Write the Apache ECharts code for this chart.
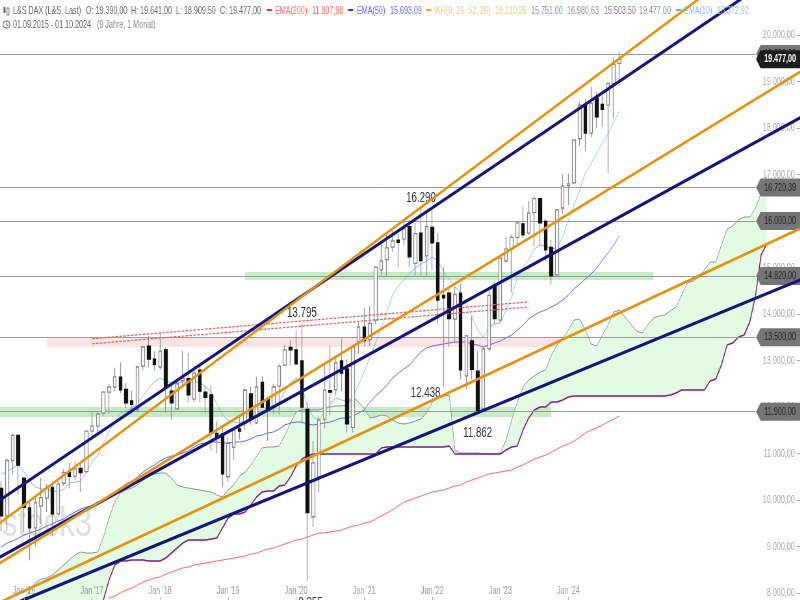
<!DOCTYPE html>
<html>
<head>
<meta charset="utf-8">
<style>
html,body{margin:0;padding:0;background:#fff;overflow:hidden;width:800px;height:600px}
/* the source picture is squeezed horizontally, so the chart is drawn wider and scaled down */
#chart{width:1231px;height:600px;transform:scaleX(0.65);transform-origin:0 0}
</style>
<script src="https://cdn.jsdelivr.net/npm/echarts@6/dist/echarts.min.js"></script>
</head>
<body>
<div id="chart"></div>
<script>
// monthly candles Sep 2015 - Oct 2024
const opens = [10250,9660,10850,11390,10470,9830,9400,9870,10040,10270,9700,10360,10590,10510,10680,10610,11480,11590,11870,12320,12430,12640,12380,12130,11940,12880,13310,13030,12860,13230,12340,11960,12570,12610,12170,12790,12320,12260,11430,11420,10500,11130,11530,11660,12280,11660,12530,12170,12000,12450,12900,13280,13230,12990,11950,9640,10500,11740,12350,12370,12990,12820,11560,13400,13720,13450,13870,14950,15170,15440,15590,15610,15880,15090,15740,15250,15860,15530,14400,14450,13890,14450,12670,13420,12770,11960,13250,14620,13870,15140,15390,15650,15940,15740,16180,16480,15990,15430,14840,16280,16760,16820,17770,18490,17890,18640,18510,18490,18950,19390];
const closes = [9660,10850,11390,10750,9840,9400,9940,10050,10260,9700,10340,10590,10510,10670,10590,11480,11590,11850,12320,12430,12650,12370,12090,12055,12860,13290,13030,12920,13200,12420,12090,12500,12620,12260,12730,12340,12210,11440,11370,10560,11220,11510,11480,12360,11760,12430,12000,11940,12430,12880,13230,13230,12930,12000,9730,10800,11720,12360,12320,12950,12730,11640,13300,13720,13430,13800,15010,15140,15420,15570,15540,15830,15230,15730,15150,15880,15530,14300,14350,13900,14420,12800,13530,12810,11930,13250,14400,13900,15200,15400,15650,15960,15700,16170,16480,15960,15380,14820,16240,16750,16800,17740,18490,17890,18530,18240,18400,18960,19370,19477];
const lows = [9325,9340,10550,10120,9310,8700,9000,9480,9740,9220,9630,10300,10250,10440,10170,10570,11300,11450,11800,11850,12340,12300,11980,11870,11900,12800,12850,12790,12800,11880,11730,11950,12450,12100,12100,12100,11860,11050,11010,10280,10380,10860,11300,11500,11620,11630,11990,11270,11860,11840,12880,12890,12900,11630,8255,9420,10160,11540,11820,12250,12340,11450,11450,13150,13300,13310,13780,14800,14800,15330,15000,15470,15020,14820,14800,14820,14950,13800,12438,13300,13380,12600,12390,12600,11862,11900,13200,13790,13800,15100,14460,15480,15630,15700,15450,15470,15130,14630,14790,16160,16340,16800,17620,17500,17800,18000,18020,17030,18210,18909];
const highs = [10400,10900,11430,11410,10490,10000,10050,10480,10340,10370,10430,10660,10800,10830,10800,11490,11900,11900,12340,12490,12850,12960,12520,12350,12890,13300,13530,13200,13600,13280,12500,12630,13210,13170,12890,12890,12460,12460,11690,11560,11340,11530,11830,12400,12440,12650,12660,12220,12500,12930,13330,13430,13640,13795,12100,11270,11780,12910,13320,13060,13460,13030,13320,13820,14130,14170,15030,15500,15730,15800,15810,16030,16030,15960,16290,16200,16290,15740,15020,14600,14590,14650,13550,13950,13200,13290,14570,14700,15280,15660,15710,15980,16330,16430,16530,16490,16040,15600,16250,17000,17020,17750,18560,18630,18890,18780,18700,18970,19520,19641];

const ema10 = [10559,10602,10688,10753,10602,10409,10280,10237,10237,10194,10172,10237,10366,10387,10409,10602,10817,10968,11226,11462,11699,11871,11914,11979,12065,12237,12409,12538,12624,12559,12516,12527,12538,12538,12538,12538,12430,12323,12065,11828,11720,11677,11656,11720,11763,11850,11893,11936,12000,12086,12344,12516,12624,12452,12000,11785,11720,11893,12065,12194,12151,12108,12215,12473,12753,13054,13377,13720,14043,14409,14602,14731,14882,14989,15075,15140,15226,15140,14903,14753,14581,14452,14215,13957,13656,13505,13720,13785,13806,14086,14366,14796,14989,15162,15398,15484,15462,15398,15419,15656,16022,16344,16667,17032,17226,17462,17677,17871,18129,18372];
const ema50 = [8989,9075,9118,9183,9247,9290,9333,9376,9441,9484,9548,9591,9677,9742,9806,9849,9871,9935,9999,10086,10172,10258,10344,10409,10495,10602,10688,10753,10839,10904,10946,10968,11011,11054,11140,11204,11226,11247,11247,11226,11226,11247,11247,11269,11312,11376,11398,11441,11462,11527,11613,11656,11677,11677,11634,11613,11634,11656,11677,11720,11763,11763,11806,11871,11936,12108,12237,12344,12473,12624,12731,12817,12903,13054,13183,13269,13312,13333,13355,13377,13398,13398,13398,13355,13333,13290,13333,13377,13419,13484,13548,13656,13763,13893,13979,14043,14086,14151,14215,14301,14409,14538,14645,14753,14860,14989,15161,15312,15484,15693];
// EMA200 only enters the window in Apr 2017
const ema200 = [7893,7936,8000,8065,8108,8172,8237,8280,8323,8344,8408,8452,8495,8538,8559,8602,8624,8645,8667,8688,8710,8731,8752,8774,8796,8839,8860,8903,8946,8968,9011,9054,9097,9140,9161,9204,9247,9290,9290,9312,9333,9355,9398,9441,9462,9505,9527,9591,9656,9720,9785,9871,9957,10000,10043,10086,10129,10172,10194,10215,10258,10301,10323,10387,10430,10473,10516,10559,10580,10602,10624,10645,10709,10753,10817,10881,10924,10967,11032,11097,11161,11204,11269,11355,11441,11505,11548,11613,11677,11742,11808];
const EMA200_START = 19;

// Ichimoku span A / B, shifted 26 months forward, start Jan 2016
const spanA = [7850,8065,8215,8301,8323,8387,8495,8602,8710,8817,8882,8860,8860,8882,9204,9613,9957,10151,10215,10258,10323,10430,10516,10559,10580,10580,10473,10323,10280,10258,10236,10215,10193,10172,10107,10064,10215,10323,10516,10602,10753,10946,11119,11140,11140,11162,11398,11656,11893,11936,11936,11936,11936,11979,12000,12022,12022,12043,12215,12108,11957,11764,11785,11828,11807,11721,11656,11635,11656,11699,11742,11871,12108,12194,12237,12258,11075,11011,11011,11011,11011,10989,10989,10989,11011,11290,11721,12108,12430,12580,12667,12753,12796,13118,13333,13462,13656,13871,13893,13656,13355,13312,13548,13763,14043,14086,13936,13785,13634,13591,13763,13914,13957,13979,14065,14151,14409,14667,14710,14796,14946,15119,15119,15484,15828,15893,16022,16086,16086,16280,16602,16980];
const spanB = [6129,6194,6258,6323,6387,6452,6559,6667,6775,6882,6990,7162,7377,7592,7850,8280,8602,8688,8688,8710,8710,8710,8688,8688,8688,8753,8860,8968,9075,9140,9140,9140,9140,9162,9183,9398,9613,9699,9699,9742,9893,10065,10172,10194,10194,10301,10323,10495,10731,10882,10946,10989,10989,10989,10989,10989,10989,10989,10989,10989,10989,10989,10989,11118,11140,11140,11140,11140,11140,11140,11140,11140,11140,11140,11140,11162,10989,10989,10989,10989,10989,10989,10989,10989,10989,11075,11140,11162,11506,11764,11936,12000,12000,12108,12108,12151,12215,12237,12237,12237,12237,12237,12237,12237,12237,12237,12237,12237,12237,12237,12237,12237,12237,12237,12258,12301,12366,12366,12366,12366,12366,12559,12602,12903,13333,13376,13505,13548,13828,14387,15269,15503];
const CLOUD_START = 4;

// trend lines: value at the first and the last month of the axis
const navyLines = [[9772,21641],[8589,18228],[7505,14740]];
const orangeLines = [[9252,22421],[8439,19219],[7645,15845]];
const dashedLines = [['2017-01',13470,'2023-06',14260],['2017-01',13360,'2023-06',14150]];

const levels = [19590,16720.39,16000,14820,13500,11900];
const lastPrice = 19477;
const yTicks = [20000,19000,18000,17000,16000,15000,14000,13000,12000,11000,10000,9000,8000];

// support and resistance zones: from, to, low, high
const zones = [
  ['2015-06','2023-10',11785,12000,'rgba(120,210,120,0.42)'],
  ['2019-04','2025-04',14731,14904,'rgba(120,210,120,0.42)'],
  ['2016-05','2024-03',13290,13484,'rgba(240,150,150,0.26)']
];

const noteTexts = ['16.290','13.795','12.438','11.862','8.255'];
const noteDates = ['2021-11','2020-02','2022-03','2022-09','2020-03'];
const noteValues = [16290,13795,12438,11862,8255];

const headerTexts = ['L&S DAX (L&S, Last)','O: 19.390,00','H: 19.641,00','L: 18.909,50','C: 19.477,00','EMA(200)','11.807,98','EMA(50)','15.693,09','IKH(9, 26, 52, 26)','18.210,25','15.751,00','16.980,63','15.503,50','19.477,00','EMA(10)','18.372,92'];
const headerColors = ['#666','#666','#666','#666','#666','#f56a6a','#f56a6a','#6a6af2','#6a6af2','#f5c77a','#f5c77a','#6d9ac8','#8a8f98','#94708f','#7f9a7f','#8fbcf0','#8fbcf0'];

// layout, in pixels of the final picture
const SCALE = 0.65;
const headerX = [13,86,131,176,220,275,312,357,390,434,495,531,567,604,639,684,717];
const swatchX = [267,348,426,676];
const swatchColors = ['#f33','#33f','#f5a623','#6da6e8'];
const noteOffsets = [[0,-10],[0,-11],[-18,6],[0,19],[3,22]];

const PAD = 3;
const MONTHS = 145;
const categories = [];
for (let k = 0; k < MONTHS; k++) {
    const m = 5 + k;
    categories.push((2015 + Math.floor(m / 12)) + '-' + String(m % 12 + 1).padStart(2, '0'));
}
const lastCat = categories[MONTHS - 1];

function px(x) {
    return x / SCALE;
}
function fmt(v) {
    const s = v.toFixed(2).split('.');
    return s[0].replace(/\B(?=(\d{3})+$)/g, '.') + ',' + s[1];
}
function isJan(val) {
    const y = +val.slice(0, 4);
    return val.slice(5) === '01' && y >= 2016 && y <= 2024;
}
function lineData(arr, start) {
    return arr.map((v, i) => [categories[PAD + start + i], v]);
}
function padded(items) {
    const blank = [];
    for (let i = 0; i < PAD; i++) blank.push(['-', '-', '-', '-']);
    return blank.concat(items);
}

const FONT = '"Liberation Sans",Arial,sans-serif';
const TAG = 'path://M0,9 L7,0 L68,0 L68,18 L7,18 Z';
const tagCat = categories[140];

function overlay(name, data, color, width, z) {
    return {name, type: 'line', data, symbol: 'none', z: z, silent: true, animation: false,
        lineStyle: {color, width}, emphasis: {disabled: true}};
}

const series = [];

// cloud
const blanks = new Array(PAD + CLOUD_START).fill('-');
series.push({name: 'cloudBase', type: 'line', stack: 'cloud', symbol: 'none', z: 1, animation: false,
    data: blanks.concat(spanB), lineStyle: {opacity: 0}});
series.push({name: 'cloudFill', type: 'line', stack: 'cloud', symbol: 'none', z: 1, animation: false,
    data: blanks.concat(spanA.map((v, i) => v - spanB[i])), lineStyle: {opacity: 0},
    areaStyle: {color: '#e3fbe3', opacity: 1}});

// zones and level lines
series.push({name: 'levels', type: 'line', data: [], z: 2, animation: false,
    markArea: {silent: true, data: zones.map(z => [
        {coord: [z[0], z[3]], itemStyle: {color: z[4]}}, {coord: [z[1], z[2]]}])},
    markLine: {silent: true, symbol: 'none', animation: false, label: {show: false},
        lineStyle: {color: '#999', width: 1, type: 'solid'},
        data: levels.map(v => [{coord: [categories[0], v]}, {coord: [categories[136], v]}])}
});

series.push(overlay('Senkou A', lineData(spanA, CLOUD_START), '#8a93a0', 1, 3));
series.push(overlay('Senkou B', lineData(spanB, CLOUD_START), '#7e1d7e', 1.5, 3));
series.push(overlay('EMA200', lineData(ema200, EMA200_START), '#f56a6a', 1, 3));
series.push(overlay('EMA50', lineData(ema50, 0), '#6a6af2', 1, 3));
series.push(overlay('EMA10', lineData(ema10, 0), '#8bbcf0', 1, 3));

// candles: gray wicks behind, bodies without wicks on top
series.push({name: 'wicks', type: 'candlestick', barWidth: 1, z: 4, animation: false, silent: true,
    data: padded(opens.map((o, i) => [o, closes[i], lows[i], highs[i]])),
    itemStyle: {color: '#999', color0: '#999', borderColor: '#999', borderColor0: '#999', borderWidth: 1.4}});
series.push({name: 'bodies', type: 'candlestick', barWidth: 5, z: 5, animation: false, silent: true,
    data: padded(opens.map((o, i) => [o, closes[i], Math.min(o, closes[i]), Math.max(o, closes[i])])),
    itemStyle: {color: '#fff', color0: '#111', borderColor: '#888', borderColor0: '#111', borderWidth: 1.3}});

dashedLines.forEach((d, i) => {
    series.push(Object.assign(overlay('dashed' + i, [[d[0], d[1]], [d[2], d[3]]], '#e06060', 1.2, 6),
        {lineStyle: {color: '#e06060', width: 1.2, type: [4, 2]}}));
});
navyLines.forEach((d, i) => {
    series.push(overlay('navy' + i, [[categories[0], d[0]], [lastCat, d[1]]], '#14147e', 3.3, 7));
});
orangeLines.forEach((d, i) => {
    series.push(overlay('orange' + i, [[categories[0], d[0]], [lastCat, d[1]]], '#e8900f', 2.8, 8));
});

// text notes at the extremes
series.push({name: 'notes', type: 'line', data: [], z: 9, animation: false,
    markPoint: {silent: true, animation: false, symbol: 'circle', symbolSize: 0,
        data: noteTexts.map((t, i) => ({coord: [noteDates[i], noteValues[i]],
            label: {show: true, formatter: t, position: 'inside', offset: [px(noteOffsets[i][0]), noteOffsets[i][1]],
                color: '#333', fontSize: 15, fontFamily: FONT}}))}
});

// price tags on the right
series.push({name: 'tags', type: 'line', data: [], z: 10, animation: false,
    markPoint: {silent: true, animation: false, symbol: TAG, symbolSize: [68, 18],
        itemStyle: {color: '#757575'},
        label: {show: true, position: 'inside', offset: [3, 0], color: '#222', fontSize: 11, fontFamily: FONT,
            formatter: p => fmt(p.data.coord[1])},
        data: levels.map(v => ({coord: [tagCat, v]})).concat([{coord: [tagCat, lastPrice],
            itemStyle: {color: '#1c1c1c'},
            label: {color: '#fff', fontWeight: 'bold', fontSize: 11, fontFamily: FONT}}])}
});

// header as plain text elements
const graphics = [{type: 'text', x: px(2), y: 505, z: 0, scaleX: 1.2, silent: true,
    style: {text: 'stock3', fill: '#e0e0e0', font: '40px ' + FONT}}];
headerTexts.forEach((t, i) => {
    graphics.push({type: 'text', x: px(headerX[i]), y: 5, z: 20, silent: true,
        style: {text: t, fill: headerColors[i], font: '11px ' + FONT}});
});
swatchX.forEach((x, i) => {
    graphics.push({type: 'rect', z: 20, silent: true, shape: {x: px(x), y: 9, width: px(5), height: 2}, style: {fill: swatchColors[i]}});
});
graphics.push({type: 'text', x: px(13), y: 19, z: 20, silent: true, style: {text: '01.09.2015 - 01.10.2024', fill: '#666', font: '11px ' + FONT}});
graphics.push({type: 'text', x: px(97), y: 19, z: 20, silent: true, style: {text: '(9 Jahre, 1 Monat)', fill: '#888', font: '11px ' + FONT}});
graphics.push({type: 'ellipse', z: 20, silent: true, shape: {cx: px(6.5), cy: 24.5, rx: px(3.5), ry: 3.5}, style: {fill: 'none', stroke: '#666', lineWidth: 1.2}});
graphics.push({type: 'polyline', z: 20, silent: true, shape: {points: [[px(6.5), 22.5], [px(6.5), 25], [px(8.5), 25]]}, style: {fill: 'none', stroke: '#666', lineWidth: 1}});
graphics.push({type: 'rect', z: 20, silent: true, shape: {x: px(3.5), y: 7, width: px(2), height: 6}, style: {fill: '#666'}});
graphics.push({type: 'rect', z: 20, silent: true, shape: {x: px(7), y: 8, width: px(2), height: 7}, style: {fill: 'none', stroke: '#666', lineWidth: 1}});

const chart = echarts.init(document.getElementById('chart'), null, {renderer: 'canvas'});
chart.setOption({
    animation: false,
    backgroundColor: '#fff',
    grid: {left: px(-18.5), top: 0, width: px(822.15), height: 600, containLabel: false, outerBoundsMode: 'none'},
    xAxis: {
        type: 'category',
        z: 12,
        data: categories,
        boundaryGap: true,
        axisLine: {show: false},
        axisTick: {show: true, inside: true, length: 3, alignWithLabel: true,
            interval: (i, v) => isJan(v), lineStyle: {color: '#aaa'}},
        axisLabel: {inside: true, margin: 4, color: '#999', fontSize: 11, fontFamily: FONT,
            interval: (i, v) => isJan(v),
            formatter: v => "Jan '" + v.slice(2, 4)},
        splitLine: {show: false}
    },
    yAxis: {
        type: 'value',
        position: 'right',
        min: 7849.7,
        max: 20752.7,
        scale: true,
        splitLine: {show: false},
        axisLine: {show: false},
        axisTick: {show: true, inside: true, length: px(7), customValues: yTicks, lineStyle: {color: '#aaa'}},
        axisLabel: {inside: true, margin: px(9), color: '#a8a8a8', fontSize: 11, fontFamily: FONT,
            customValues: yTicks, formatter: v => fmt(v)}
    },
    graphic: {elements: graphics},
    series
});
</script>
</body>
</html>
